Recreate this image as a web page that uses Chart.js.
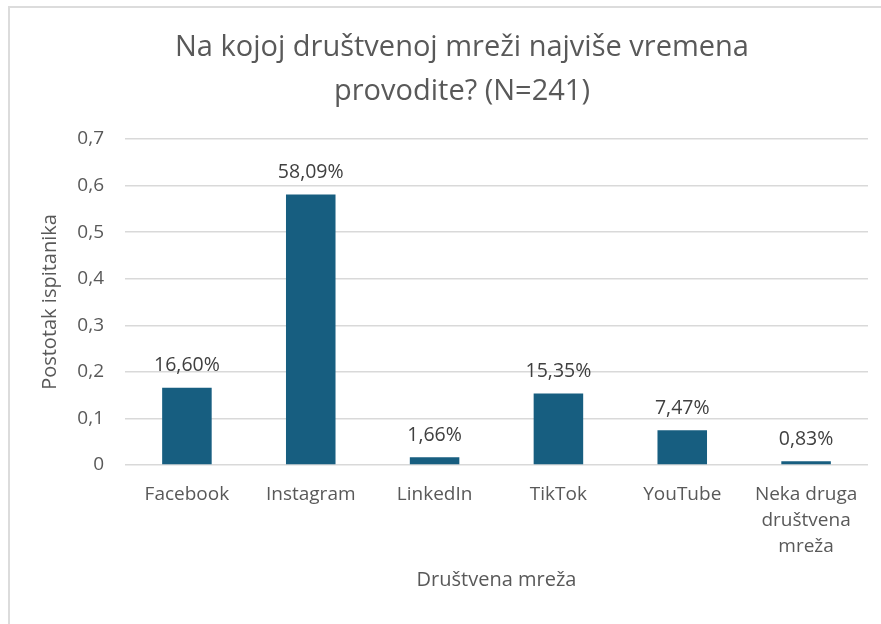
<!DOCTYPE html>
<html>
<head>
<meta charset="utf-8">
<script src="https://cdn.jsdelivr.net/npm/chart.js@4/dist/chart.umd.min.js"></script>
<style>
  html, body { margin: 0; padding: 0; background: #fff; overflow: hidden; width: 881px; height: 624px; }
  #box { position: absolute; left: 8px; top: 6px; width: 904px; height: 640px; border-left: 2px solid #dcdcdc; border-top: 2px solid #dcdcdc; }
  #wrap { position: absolute; left: 0; top: 0; width: 904px; height: 616px; }
</style>
</head>
<body>
<div id="box"><div id="wrap"><canvas id="c" width="904" height="616"></canvas></div></div>
<script>
const titleLines = ["Na kojoj društvenoj mreži najviše vremena", "provodite? (N=241)"];
const categories = ["Facebook", "Instagram", "LinkedIn", "TikTok", "YouTube", ["Neka druga", "društvena", "mreža"]];
const values = [0.1660, 0.5809, 0.0166, 0.1535, 0.0747, 0.0083];
const valueLabels = ["16,60%", "58,09%", "1,66%", "15,35%", "7,47%", "0,83%"];
const yTitle = "Postotak ispitanika";
const xTitle = "Društvena mreža";

const FONT = "'Open Sans'";
const TEXT = "#595959";

const titlePlugin = {
  id: 'customTitle',
  afterDraw(chart) {
    const ctx = chart.ctx;
    ctx.save();
    ctx.font = "29px " + FONT;
    ctx.fillStyle = TEXT;
    ctx.textAlign = "center";
    ctx.textBaseline = "middle";
    const cx = chart.width / 2;
    ctx.fillText(titleLines[0], cx, 40);
    ctx.fillText(titleLines[1], cx, 83.5);
    ctx.restore();
  }
};

const valuePlugin = {
  id: 'valueLabels',
  afterDatasetsDraw(chart) {
    const ctx = chart.ctx;
    const meta = chart.getDatasetMeta(0);
    ctx.save();
    ctx.font = "19.5px " + FONT;
    ctx.fillStyle = "#404040";
    ctx.textAlign = "center";
    ctx.textBaseline = "middle";
    meta.data.forEach((bar, i) => {
      ctx.fillText(valueLabels[i], bar.x, bar.y - 22);
    });
    ctx.restore();
  }
};

new Chart(document.getElementById('c'), {
  type: 'bar',
  data: {
    labels: categories,
    datasets: [{
      data: values,
      backgroundColor: '#175e80',
      borderWidth: 0,
      categoryPercentage: 1.0,
      barPercentage: 0.4
    }]
  },
  options: {
    responsive: false,
    animation: false,
    devicePixelRatio: 1,
    layout: { padding: { top: 131, right: 46, left: 0, bottom: 0 } },
    plugins: { legend: { display: false }, tooltip: { enabled: false }, title: { display: false } },
    scales: {
      x: {
        grid: { display: false, drawTicks: false },
        border: { display: false },
        ticks: { color: TEXT, font: { family: FONT, size: 19, lineHeight: 1.38 }, padding: 16, maxRotation: 0, autoSkip: false },
        title: { display: true, text: xTitle, color: TEXT, font: { family: FONT, size: 20 }, padding: { top: 0, bottom: 32 } },
        afterFit(scale) { scale.height = 159; }
      },
      y: {
        min: 0, max: 0.7,
        grid: { color: '#d9d9d9', lineWidth: 1.5, drawTicks: false },
        border: { display: false },
        ticks: {
          stepSize: 0.1, color: TEXT, font: { family: FONT, size: 19 }, padding: 21,
          callback: (v) => v === 0 ? "0" : v.toFixed(1).replace('.', ',')
        },
        title: { display: true, text: yTitle, color: TEXT, font: { family: FONT, size: 20 }, padding: { top: 28, bottom: 0 } },
        afterFit(scale) { scale.width = 115; }
      }
    }
  },
  plugins: [titlePlugin, valuePlugin]
});
</script>
</body>
</html>
